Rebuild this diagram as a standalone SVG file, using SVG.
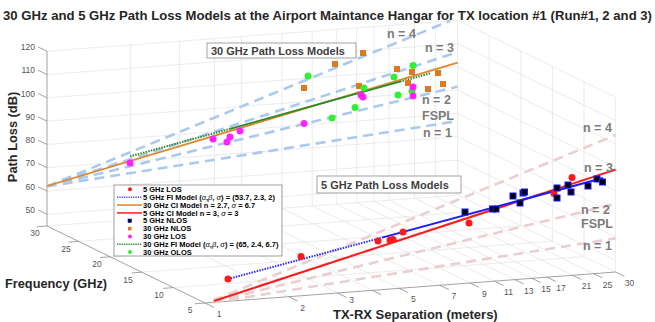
<svg xmlns="http://www.w3.org/2000/svg" width="655" height="322" viewBox="0 0 655 322">
<style>
.g{stroke:#e2e2e2;stroke-width:0.7;fill:none}
.ax{stroke:#8a8a8a;stroke-width:0.8;fill:none}
.tk{font-family:"Liberation Sans",Arial,sans-serif;font-size:8.5px;fill:#555}
.nb{stroke:#aac9ee;stroke-width:2.6;stroke-dasharray:10 6;fill:none}
.np{stroke:#e9cfcf;stroke-width:2.6;stroke-dasharray:10 6;fill:none}
.nl{font-family:"Liberation Sans",Arial,sans-serif;font-size:12.5px;font-weight:bold;fill:#7b7b7b}
.lab{font-family:"Liberation Sans",Arial,sans-serif;font-weight:bold;fill:#262626}
.lg{font-family:"Liberation Sans",Arial,sans-serif;font-size:7.5px;font-weight:bold;fill:#000}
.gk{font-style:italic;font-weight:normal}
.mag{fill:#ff22ff}
.grn{fill:#33ee33}
.red{fill:#ff1a1a}
.org{fill:#dd7a1f}
.blk{fill:#000;stroke:#1a1aff;stroke-width:1}
.bx{fill:#fff;stroke:#8a8a8a;stroke-width:0.8}
.bt{font-family:"Liberation Sans",Arial,sans-serif;font-size:11px;font-weight:bold;fill:#404040}
</style>

<g id="grid">
<path class="g" d="M47 214.35L457.6 183.35M47 191.05L457.6 160.05M47 167.75L457.6 136.75M47 144.45L457.6 113.45M47 121.15L457.6 90.15M47 97.85L457.6 66.85M47 74.55L457.6 43.55M47 51.25L457.6 20.25"/>
<path class="g" d="M130.7 219.7V44.9M179.6 216V41.2M214.4 213.4V38.6M241.3 211.3V36.6M281.9 208.3V33.5M312.2 206V31.2M336.4 204.1V29.4M356.7 202.6V27.9M373.9 201.3V26.6M389 200.2V25.4M414.5 198.2V23.5M435.6 196.6V21.9M457.6 195V20.2"/>
<path class="g" d="M288.7 296.7L130.7 219.7M337.6 293L179.6 216M372.4 290.4L214.4 213.4M399.3 288.3L241.3 211.3M439.9 285.3L281.9 208.3M470.2 283L312.2 206M494.4 281.1L336.4 204.1M514.7 279.6L356.7 202.6M531.9 278.3L373.9 201.3M547 277.2L389 200.2M572.5 275.2L414.5 198.2M593.6 273.6L435.6 196.6M615.6 272L457.6 195"/>
<path class="g" d="M173.4 287.6L584 256.6M141.8 272.2L552.4 241.2M110.2 256.8L520.8 225.8M78.6 241.4L489.2 210.4M47 226L457.6 195"/>
<path class="g" d="M615.6 272V97.25M584 256.6V81.85M552.4 241.2V66.45M520.8 225.8V51.05M489.2 210.4V35.65"/>
<path class="g" d="M457.6 183.35L615.6 260.35M457.6 160.05L615.6 237.05M457.6 136.75L615.6 213.75M457.6 113.45L615.6 190.45M457.6 90.15L615.6 167.15M457.6 66.85L615.6 143.85M457.6 43.55L615.6 120.55M457.6 20.25L615.6 97.25"/>
</g>

<g id="axes">
<path class="ax" d="M47 51.25V226L205 303L615.6 272"/>
<path class="ax" d="M47 51.25l-8.85 -4.3M47 74.55l-8.85 -4.3M47 97.85l-8.85 -4.3M47 121.15l-8.85 -4.3M47 144.45l-8.85 -4.3M47 167.75l-8.85 -4.3M47 191.05l-8.85 -4.3M47 214.35l-8.85 -4.3"/>
<path class="ax" d="M47 226l-10 0.75M78.6 241.4l-10 0.75M110.2 256.8l-10 0.75M141.8 272.2l-10 0.75M173.4 287.6l-10 0.75M205 303l-10 0.75"/>
<path class="ax" d="M205 303l8.85 4.3M288.7 296.7l8.85 4.3M337.6 293l8.85 4.3M372.4 290.4l8.85 4.3M399.3 288.3l8.85 4.3M439.9 285.3l8.85 4.3M470.2 283l8.85 4.3M494.4 281.1l8.85 4.3M514.7 279.6l8.85 4.3M531.9 278.3l8.85 4.3M547 277.2l8.85 4.3M572.5 275.2l8.85 4.3M593.6 273.6l8.85 4.3M615.6 272l8.85 4.3"/>
<g class="tk" text-anchor="end">
<text x="35" y="49.9">120</text><text x="35" y="73.2">110</text><text x="35" y="96.5">100</text><text x="35" y="119.8">90</text><text x="35" y="143.1">80</text><text x="35" y="166.4">70</text><text x="35" y="189.7">60</text><text x="35" y="213">50</text>
</g>
<g class="tk" text-anchor="middle">
<text x="35" y="236">30</text><text x="66" y="252">25</text><text x="97" y="267">20</text><text x="128" y="282.5">15</text><text x="159" y="298">10</text><text x="190" y="313">5</text>
<text x="219" y="317">1</text><text x="302.7" y="310.7">2</text><text x="351.6" y="303">3</text><text x="413.3" y="302.3">5</text><text x="453.9" y="299.3">7</text><text x="484.3" y="297">9</text><text x="508.5" y="295.1">11</text><text x="528.7" y="293.6">13</text><text x="546" y="292.3">15</text><text x="561" y="291.2">17</text><text x="586.5" y="289.2">21</text><text x="607.6" y="287.6">25</text><text x="629.6" y="286">30</text>
</g>
<text class="lab" font-size="12.8" text-anchor="middle" transform="translate(16.5 137) rotate(-90)">Path Loss (dB)</text>
<text class="lab" font-size="12.75" x="5" y="287.5">Frequency (GHz)</text>
<text class="lab" font-size="13" x="333" y="319">TX-RX Separation (meters)</text>
</g>

<g id="connectors">
<path class="nb" d="M47 186.4L457.6 121M47 186.4L457.6 86.6M47 186.4L457.6 52.1M47 186.4L450.1 20.8"/>
<path class="np" d="M213.3 302.4L615.6 238.3M213.3 301.7L615.6 203.9M213.3 301L615.6 169.4M213.3 300.3L615.6 135"/>
<path d="M47 186L457.6 62.6" stroke="#e0862a" stroke-width="1.8" fill="none"/>
<path d="M130 156.4L230 128.8M400 81.7L430 73.4" stroke="#2a8a2a" stroke-width="2" stroke-dasharray="1.5 1.2" fill="none"/>
<path d="M230 128.8L400 81.7" stroke="#2a8a2a" stroke-width="1.8" fill="none"/>
<path d="M214 301L615.6 169.6" stroke="#ff1a1a" stroke-width="2" fill="none"/>
<path d="M228 279L382 237.6" stroke="#2a2aff" stroke-width="2" stroke-dasharray="1.5 1.2" fill="none"/>
<path d="M382 237.6L603 178" stroke="#1a1aff" stroke-width="2" fill="none"/>
</g>

<g id="points30">
<g class="org">
<rect x="360" y="50" width="6" height="6"/><rect x="332" y="61" width="6" height="6"/><rect x="301" y="85" width="6" height="6"/><rect x="356" y="83" width="6" height="6"/><rect x="394" y="66" width="6" height="6"/><rect x="409" y="69" width="6" height="6"/><rect x="405" y="80" width="6" height="6"/><rect x="435" y="70" width="6" height="6"/><rect x="440" y="81" width="6" height="6"/><rect x="425" y="86" width="6" height="6"/>
</g>
<g class="grn">
<circle cx="308" cy="76" r="3.5"/><circle cx="332" cy="118" r="3.5"/><circle cx="355" cy="107.5" r="3.5"/><circle cx="364" cy="88" r="3.5"/><circle cx="394" cy="77" r="3.5"/><circle cx="398" cy="95" r="3.5"/><circle cx="413" cy="65.5" r="3.5"/><circle cx="412" cy="91" r="3.5"/>
</g>
<g class="mag">
<circle cx="130" cy="163" r="3.5"/><circle cx="213" cy="139" r="3.5"/><circle cx="227" cy="142" r="3.5"/><circle cx="230" cy="137" r="3.5"/><circle cx="240" cy="131" r="3.5"/><circle cx="304" cy="123.5" r="3.5"/><circle cx="361" cy="95" r="3.5"/><circle cx="363" cy="97" r="3.5"/><circle cx="413" cy="87" r="3.5"/><circle cx="413" cy="96" r="3.5"/>
</g>
</g>

<g id="points5">
<g class="red">
<circle cx="228" cy="279" r="3.5"/><circle cx="301" cy="256.5" r="3.5"/><circle cx="378" cy="241" r="3.5"/><circle cx="390" cy="240" r="3.5"/><circle cx="393" cy="239.5" r="3.5"/><circle cx="403" cy="232" r="3.5"/><circle cx="469" cy="223" r="3.5"/><circle cx="554" cy="193.5" r="3.5"/><circle cx="572" cy="177.5" r="3.5"/>
</g>
<g class="blk">
<rect x="462" y="209" width="6" height="6"/><rect x="489.5" y="206" width="6" height="6"/><rect x="493" y="206" width="6" height="6"/><rect x="510" y="193" width="6" height="6"/><rect x="520" y="190" width="6" height="6"/><rect x="521.5" y="189" width="6" height="6"/><rect x="517" y="200" width="6" height="6"/><rect x="554" y="185" width="6" height="6"/><rect x="554" y="195" width="6" height="6"/><rect x="565" y="182" width="6" height="6"/><rect x="568" y="189" width="6" height="6"/><rect x="585" y="183" width="6" height="6"/><rect x="594" y="176" width="6" height="6"/><rect x="599.5" y="179" width="6" height="6"/>
</g>
</g>

<g id="nlabels" class="nl">
<text x="387" y="37.5">n = 4</text><text x="425" y="51.5">n = 3</text><text x="422" y="103.5">n = 2</text><text x="422" y="119.5">FSPL</text><text x="423" y="136.5">n = 1</text>
<text x="583" y="131.5">n = 4</text><text x="584" y="171.5">n = 3</text><text x="581" y="213.5">n = 2</text><text x="581" y="227.5">FSPL</text><text x="583" y="249.5">n = 1</text>
</g>

<g id="box30">
<rect class="bx" x="207" y="43" width="149" height="15"/>
<text class="bt" x="211" y="54.5">30 GHz Path Loss Models</text>
</g>
<g id="box5">
<rect class="bx" x="317" y="176" width="144" height="17"/>
<text class="bt" x="321" y="188.5">5 GHz Path Loss Models</text>
</g>

<g id="legend">
<rect x="114" y="185" width="168" height="71" fill="#fff" stroke="#777" stroke-width="0.7"/>
<circle cx="130" cy="189.3" r="2" class="red"/>
<path d="M117 197.2H142" stroke="#4d4dff" stroke-width="1.5" stroke-dasharray="1.3 1"/>
<path d="M117 205H142" stroke="#e0862a" stroke-width="1.5"/>
<path d="M117 212.9H142" stroke="#ff1a1a" stroke-width="1.5"/>
<rect x="128" y="219" width="3.5" height="3.5" fill="#000" stroke="#1a1aff" stroke-width="0.6"/>
<rect x="128" y="226.9" width="3.5" height="3.5" class="org"/>
<circle cx="130" cy="236.4" r="2" class="mag"/>
<path d="M117 244.3H142" stroke="#2a8a2a" stroke-width="1.5" stroke-dasharray="1.3 1"/>
<circle cx="130" cy="252.1" r="2" class="grn"/>
<g class="lg">
<text x="143" y="192">5 GHz LOS</text>
<text x="143" y="199.9" textLength="132">5 GHz FI Model (<tspan class="gk">α</tspan>,<tspan class="gk">β</tspan>, <tspan class="gk">σ</tspan>) = (53.7, 2.3, 2)</text>
<text x="143" y="207.7">30 GHz CI Model n = 2.7, <tspan class="gk">σ</tspan> = 6.7</text>
<text x="143" y="215.6">5 GHz CI Model n = 3, <tspan class="gk">σ</tspan> = 3</text>
<text x="143" y="223.4">5 GHz NLOS</text>
<text x="143" y="231.3">30 GHz NLOS</text>
<text x="143" y="239.1">30 GHz LOS</text>
<text x="143" y="247">30 GHz FI Model (<tspan class="gk">α</tspan>,<tspan class="gk">β</tspan>, <tspan class="gk">σ</tspan>) = (65, 2.4, 6.7)</text>
<text x="143" y="254.8">30 GHz OLOS</text>
</g>
</g>

<text id="title" class="lab" font-size="13" x="3" y="19.5" textLength="649" lengthAdjust="spacingAndGlyphs" fill="#000">30 GHz and 5 GHz Path Loss Models at the Airport Maintance Hangar for TX location #1 (Run#1, 2 and 3)</text>
</svg>
